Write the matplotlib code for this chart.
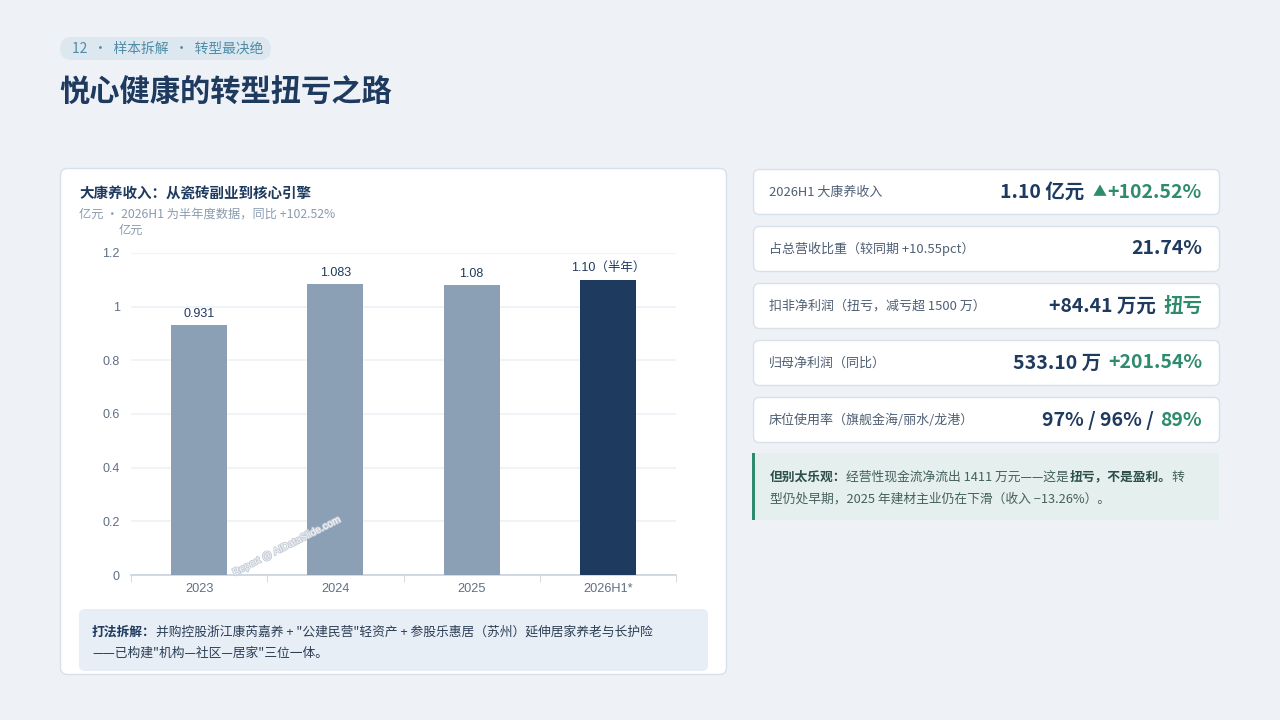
import matplotlib
matplotlib.use('Agg')
import matplotlib.pyplot as plt
from matplotlib.patches import FancyBboxPatch, Rectangle
import matplotlib.patheffects as pe

plt.rcParams['font.family'] = ['Noto Sans CJK SC', 'DejaVu Sans']

# data
years = ['2023', '2024', '2025', '2026H1*']
revenue = [0.931, 1.083, 1.08, 1.10]
bar_labels = ['0.931', '1.083', '1.08', '1.10（半年）']
y_ticks = [0, 0.2, 0.4, 0.6, 0.8, 1.0, 1.2]
y_tick_labels = ['0', '0.2', '0.4', '0.6', '0.8', '1', '1.2']

kpi_labels = ['2026H1 大康养收入', '占总营收比重（较同期 +10.55pct）',
              '扣非净利润（扭亏，减亏超 1500 万）', '归母净利润（同比）',
              '床位使用率（旗舰金海/丽水/龙港）']
# value pieces: (text, is_green)
kpi_values = [
    [('1.10 亿元', False), ('▲', True), ('+102.52%', True)],
    [('21.74%', False)],
    [('+84.41 万元', False), ('扭亏', True)],
    [('533.10 万', False), ('+201.54%', True)],
    [('97% / 96% /', False), ('89%', True)],
]

NAVY = '#1E3A5F'
GREEN = '#2E8B6E'
BG = '#EEF2F7'
BORDER = '#D8E0EA'
GREY = '#8A9BB0'
LIGHT_BAR = '#8BA0B5'


def fs(px):
    return px * 0.72


fig = plt.figure(figsize=(12.8, 7.2), dpi=100, facecolor=BG)
bg = fig.add_axes([0, 0, 1, 1])
bg.set_xlim(0, 1280)
bg.set_ylim(720, 0)
bg.axis('off')
bg.set_facecolor(BG)


def rbox(x, y, w, h, fc, ec='none', r=6, lw=1, z=1):
    p = FancyBboxPatch((x, y), w, h, boxstyle='round,pad=0,rounding_size=%g' % r,
                       fc=fc, ec=ec, lw=lw, zorder=z)
    bg.add_patch(p)
    return p


# header tag + title
rbox(60, 37, 211, 23, '#DCE7EF', r=11.5)
bg.text(72, 49, '12  ·  样本拆解  ·  转型最决绝', fontsize=fs(13.8), color='#4E8CA6',
        va='center', ha='left')
bg.text(59, 92, '悦心健康的转型扭亏之路', fontsize=fs(30.3), color=NAVY,
        fontweight='heavy', va='center', ha='left')

# left card
rbox(60.5, 168.5, 666, 506, 'white', ec=BORDER, r=7)
bg.text(79, 195, '大康养收入：从瓷砖副业到核心引擎', fontsize=fs(14.5), color=NAVY,
        fontweight='bold', va='center')
bg.text(79, 214, '亿元 · 2026H1 为半年度数据，同比 +102.52%', fontsize=fs(12.2),
        color=GREY, va='center')

# bottom explanation box
rbox(79, 609, 629, 62, '#E8EEF5', r=6)
t = bg.text(92, 632, '打法拆解：', fontsize=fs(12.8), color=NAVY,
            fontweight='bold', va='center')
bg.annotate('并购控股浙江康芮嘉养 + "公建民营"轻资产 + 参股乐惠居（苏州）延伸居家养老与长护险',
            xy=(1, 0), xycoords=t, va='bottom', ha='left', fontsize=fs(12.8), color='#2B3E55')
bg.text(92, 653, '——已构建"机构—社区—居家"三位一体。', fontsize=fs(12.8),
        color='#2B3E55', va='center')

# bar chart
ax = fig.add_axes([131 / 1280, (720 - 575) / 720, 545 / 1280, 322 / 720])
ax.set_facecolor('none')
colors = [LIGHT_BAR] * (len(years) - 1) + [NAVY]
bars = ax.bar(range(len(years)), revenue, width=0.41, color=colors, zorder=3)
ax.set_xlim(-0.5, len(years) - 0.5)
ax.set_ylim(0, 1.2)
ax.set_yticks(y_ticks)
ax.set_yticklabels(y_tick_labels, family=['Liberation Sans', 'Noto Sans CJK SC'],
                   fontsize=fs(12.5), color='#5F6F84')
ax.set_xticks(range(len(years)))
ax.set_xticklabels(years, family=['Liberation Sans', 'Noto Sans CJK SC'],
                   fontsize=fs(12.8), color='#5F6F84')
ax.set_xticks([i - 0.5 for i in range(len(years) + 1)], minor=True)
ax.tick_params(axis='x', which='major', length=0, pad=6)
ax.tick_params(axis='x', which='minor', length=5, color='#C9D3DE', direction='out')
ax.tick_params(axis='y', length=0, pad=8)
ax.grid(axis='y', color='#EDF1F6', lw=1.2, zorder=0)
for s in ['top', 'right', 'left']:
    ax.spines[s].set_visible(False)
ax.spines['bottom'].set_color('#C9D3DE')
ax.spines['bottom'].set_linewidth(1.2)
for b, lab in zip(bars, bar_labels):
    ax.annotate(lab, xy=(b.get_x() + b.get_width() / 2, b.get_height()),
                xytext=(0, 4), textcoords='offset points', ha='center', va='bottom',
                family=['Liberation Sans', 'Noto Sans CJK SC'], fontsize=fs(12.5),
                color=NAVY)
ax.text(-0.5, 1.283, '亿元', ha='center', va='center', fontsize=fs(12.2), color=GREY,
        transform=ax.transData, clip_on=False)
ax.text(0.285, 0.09, 'Report @ AIDataSlide.com', rotation=27, ha='center', va='center',
        fontsize=fs(10), color='#F4F6F9', transform=ax.transAxes,
        family=['Liberation Sans'], zorder=5,
        path_effects=[pe.withStroke(linewidth=1.4, foreground='#C8CFD8')])

# right KPI cards
for i, (lab, parts) in enumerate(zip(kpi_labels, kpi_values)):
    top = 169 + 57 * i
    rbox(753.5, top + 0.5, 466, 45, 'white', ec=BORDER, r=6)
    cy = top + 23
    bg.text(769, cy, lab, fontsize=fs(13), color='#4F5F74', va='center')
    prev = None
    for txt, green in reversed(parts):
        small = txt == '▲'
        kw = dict(fontsize=fs(14 if small else 19.5), fontweight='bold',
                  color=GREEN if green else NAVY, ha='right')
        if prev is None:
            prev = bg.text(1202, cy, txt, va='center', **kw)
        elif small:
            prev = bg.annotate(txt, xy=(0, 0.5), xycoords=prev, xytext=(-1, 0),
                               textcoords='offset points', va='center', **kw)
        else:
            gap = -6 if prev.get_text() == '▲' else -5
            prev = bg.annotate(txt, xy=(0, 0.5), xycoords=prev, xytext=(gap, 0),
                               textcoords='offset points', va='center', **kw)

# warning note
bg.add_patch(Rectangle((752, 453), 467, 67, fc='#E5EFEE', ec='none', zorder=1))
bg.add_patch(Rectangle((752, 453), 3, 67, fc=GREEN, ec='none', zorder=2))
NOTE_DARK = '#2D4F4A'
NOTE = '#44615C'
line1 = [('但别太乐观：', True), ('经营性现金流净流出 1411 万元——这是', False),
         ('扭亏，不是盈利。', True), ('转', False)]
prev = None
for txt, bold in line1:
    kw = dict(fontsize=fs(12.8), color=NOTE_DARK if bold else NOTE,
              fontweight='bold' if bold else 'normal', ha='left')
    if prev is None:
        prev = bg.text(770, 477, txt, va='center', **kw)
    else:
        prev = bg.annotate(txt, xy=(1, 0), xycoords=prev, va='bottom', **kw)
bg.text(770, 499, '型仍处早期，2025 年建材主业仍在下滑（收入 −13.26%）。',
        fontsize=fs(12.8), color=NOTE, va='center')

fig.savefig('out.png', dpi=100, facecolor=BG)
